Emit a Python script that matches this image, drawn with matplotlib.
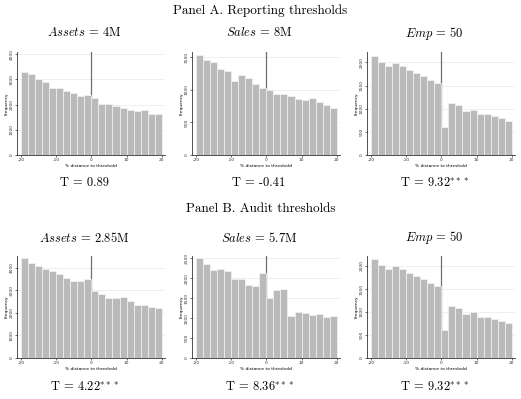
import numpy as np
import matplotlib
matplotlib.use("Agg")
import matplotlib.pyplot as plt

plt.rcParams['mathtext.fontset'] = 'cm'
plt.rcParams['axes.unicode_minus'] = False

# bin edges: % distance to threshold
edges = np.arange(-20, 21, 2)

# Panel A. Reporting thresholds
assets_rep = [3300, 3220, 3020, 2880, 2650, 2670, 2550, 2460, 2320, 2360,
              2260, 2010, 2010, 1940, 1870, 1800, 1730, 1770, 1620, 1610]
sales_rep = [1530, 1454, 1429, 1311, 1281, 1128, 1224, 1173, 1082, 1020,
             1000, 929, 929, 898, 857, 837, 872, 811, 760, 724]
emp_rep = [2143, 2007, 1921, 1986, 1914, 1843, 1764, 1707, 1629, 1557,
           607, 1114, 1086, 957, 979, 886, 879, 836, 793, 743]

# Panel B. Audit thresholds
assets_aud = [4444, 4207, 4074, 3956, 3881, 3748, 3556, 3437, 3407, 3511,
              2963, 2844, 2652, 2652, 2726, 2519, 2356, 2370, 2281, 2207]
sales_aud = [2520, 2356, 2220, 2237, 2186, 1975, 1983, 1839, 1797, 2127,
             1517, 1703, 1737, 1042, 1144, 1119, 1076, 1102, 1025, 1042]
emp_aud = [2160, 2020, 1935, 2000, 1932, 1852, 1773, 1716, 1640, 1572,
           608, 1126, 1094, 964, 990, 896, 885, 842, 798, 752]

titles = ['$Assets$ = 4M', '$Sales$ = 8M', '$Emp$ = 50',
          '$Assets$ = 2.85M', '$Sales$ = 5.7M', '$Emp$ = 50']
tstats = ['T = 0.89', 'T = -0.41', 'T = 9.32$^{***}$',
          'T = 4.22$^{***}$', 'T = 8.36$^{***}$', 'T = 9.32$^{***}$']
series = [assets_rep, sales_rep, emp_rep, assets_aud, sales_aud, emp_aud]
yticks = [[0, 1000, 2000, 3000, 4000], [0, 500, 1000, 1500], [0, 500, 1000, 1500, 2000],
          [0, 1000, 2000, 3000, 4000], [0, 500, 1000, 1500, 2000, 2500], [0, 500, 1000, 1500, 2000]]
ytops = [4080, 1577, 2225, 4533, 2560, 2217]

W, H = 521, 399
fig = plt.figure(figsize=(W / 100, H / 100), dpi=100)
fig.patch.set_facecolor('white')

ax_left = [17, 192, 367]
ax_bottom = [155, 358]
ax_height = [103, 102]
text_x = [84, 259, 434]
sub_y = [33, 238]
t_y = [183, 387]

cm = dict(family='cmr10', ha='center', va='center')
fig.text(0.5, 1 - 11 / H, 'Panel A. Reporting thresholds', fontsize=9.5, **cm)
fig.text(0.5, 1 - 209 / H, 'Panel B. Audit thresholds', fontsize=9.5, **cm)

for i in range(6):
    r, c = divmod(i, 3)
    ax = fig.add_axes([ax_left[c] / W, 1 - ax_bottom[r] / H, 148 / W, ax_height[r] / H])
    ax.set_axisbelow(True)
    ax.bar(edges[:-1], series[i], width=2, align='edge', color='#bababa',
           edgecolor='#f4f4f4', linewidth=0.5, zorder=2)
    ax.axvline(0, color='#707070', lw=0.9, zorder=1)
    ax.set_xlim(-21.1, 20.9)
    ax.set_ylim(0, ytops[i])
    ax.set_xticks([-20, -10, 0, 10, 20])
    ax.set_yticks(yticks[i])
    ax.yaxis.grid(True, color='#ececec', lw=0.6)
    for s in ['top', 'right']:
        ax.spines[s].set_visible(False)
    for s in ['left', 'bottom']:
        ax.spines[s].set_color('#333333')
        ax.spines[s].set_linewidth(0.6)
    ax.tick_params(length=1.5, width=0.5, pad=1, labelsize=3.2, colors='#333333')
    for lab in ax.get_yticklabels():
        lab.set_rotation(90)
        lab.set_va('center')
    ax.set_xlabel('% distance to threshold', fontsize=3.2, labelpad=1)
    ax.set_ylabel('Frequency', fontsize=3.2, labelpad=1)
    fig.text(text_x[c] / W, 1 - sub_y[r] / H, titles[i], fontsize=9, **cm)
    fig.text(text_x[c] / W, 1 - t_y[r] / H, tstats[i], fontsize=9, **cm)

fig.savefig('out.png', dpi=100, facecolor='white')
